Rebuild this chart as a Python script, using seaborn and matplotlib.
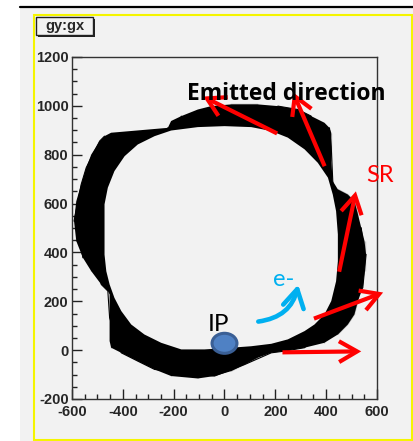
import matplotlib
matplotlib.use("Agg")
import matplotlib.pyplot as plt
import seaborn as sns
from matplotlib.patches import Rectangle, Ellipse
from matplotlib.ticker import MultipleLocator, FixedLocator, FixedFormatter

# ---------------- data ----------------
# outer edge of the gy:gx point cloud (clockwise from the top-left corner)
outer_x = [-446, -223, -210, -170, -105, -52, 26, 131, 210, 289, 341, 393, 413, 420, 420, 426, 446, 485,
           511, 525, 538, 551, 557, 551, 544, 525, 511, 485, 446, 393, 315, 236, 184, 131, 79, 26, -39,
           -105, -210, -275, -341, -406, -446, -452, -452, -459, -485, -524, -557, -583, -592, -583,
           -564, -544, -524, -491, -472]
outer_y = [890, 910, 938, 958, 985, 999, 1006, 1006, 999, 985, 958, 931, 910, 890, 774, 692, 658, 637,
           610, 556, 501, 446, 392, 323, 255, 201, 146, 105, 64, 30, 10, -4, -11, -31, -59, -86, -106,
           -116, -106, -79, -45, -11, 10, 37, 228, 242, 269, 323, 378, 446, 528, 610,
           678, 747, 801, 856, 876]
# inner (empty) region of the cloud
inner_x = [-472, -472, -472, -459, -433, -393, -341, -275, -210, -105, 0, 105, 184, 249, 315, 367, 407,
           426, 439, 446, 446, 439, 420, 393, 354, 315, 249, 184, 105, 26, -79, -170, -249, -315, -367,
           -406, -433, -452, -465]
inner_y = [391, 501, 597, 665, 733, 794, 842, 876, 899, 913, 917, 913, 897, 870, 822, 767, 706,
           637, 569, 474, 364, 282, 201, 146, 105, 78, 44, 26, 16, 10, 3, 3, 30, 64, 105,
           160, 214, 269, 323]

x_ticks = [-600, -400, -200, 0, 200, 400, 600]
x_tick_labels = ["-600", "-400", "-200", "0", "200", "400", "600"]
y_ticks = [-200, 0, 200, 400, 600, 800, 1000, 1200]
y_tick_labels = ["-200", "0", "200", "400", "600", "800", "1000", "1200"]

# red "emitted direction" arrows: tail -> head
arrow_tail_x = [207, 394, 451, 352, 228]
arrow_tail_y = [887, 753, 321, 129, -9]
arrow_head_x = [-84, 270, 517, 624, 538]
arrow_head_y = [1038, 1055, 650, 236, -5]

electron_tail = [133, 117]
electron_head = [290, 268]
ip_pos = [0, 28]
ip_size = [98, 82]

title_text = "gy:gx"
label_emitted = "Emitted direction"
label_sr = "SR"
label_e = "e-"
label_ip = "IP"
label_emitted_pos = [-147, 1026]
label_sr_pos = [557, 687]
label_e_pos = [191, 264]
label_ip_pos = [-64, 77]

# ---------------- style ----------------
sns.set_style("ticks")
plt.rcParams["font.family"] = ["Liberation Sans", "DejaVu Sans"]

BG = "#f2f2f2"
W, H = 414, 441
fig = plt.figure(figsize=(W / 100, H / 100), dpi=100)
fig.patch.set_facecolor("white")

# canvas background, top line and yellow pad border
fig.patches.append(Rectangle((20 / W, 0), 1 - 20 / W, (H - 8) / H, transform=fig.transFigure,
                             facecolor=BG, edgecolor="none", zorder=-2))
fig.lines.append(plt.Line2D([20 / W, 1], [(H - 7) / H, (H - 7) / H], transform=fig.transFigure,
                            color="black", lw=1.6, zorder=-1))
fig.patches.append(Rectangle((34.5 / W, 1 / H), 378 / W, 425.5 / H, transform=fig.transFigure,
                             facecolor="none", edgecolor="#f5f500", lw=1.5, zorder=1))

ax = fig.add_axes([72 / W, (H - 399) / H, 305 / W, 342 / H])
ax.set_facecolor(BG)

# the black band (gy vs gx)
ax.fill(outer_x, outer_y, color="black", lw=0, zorder=2)
sns.lineplot(x=outer_x + outer_x[:1], y=outer_y + outer_y[:1], sort=False, color="black",
             lw=0.8, ax=ax, zorder=2)
ax.fill(inner_x, inner_y, color=BG, lw=0, zorder=3)

ax.set_xlim(-600, 600)
ax.set_ylim(-200, 1200)
ax.xaxis.set_major_locator(FixedLocator(x_ticks))
ax.xaxis.set_major_formatter(FixedFormatter(x_tick_labels))
ax.yaxis.set_major_locator(FixedLocator(y_ticks))
ax.yaxis.set_major_formatter(FixedFormatter(y_tick_labels))
ax.xaxis.set_minor_locator(MultipleLocator(50))
ax.yaxis.set_minor_locator(MultipleLocator(50))
ax.tick_params(which="both", direction="in", color="#222222", width=1.0,
               top=False, right=False)
ax.tick_params(which="major", length=7.2)
ax.tick_params(which="minor", length=3.6)
ax.tick_params(axis="x", which="major", pad=4)
ax.tick_params(axis="y", which="major", pad=2.5)
for lab in ax.get_xticklabels() + ax.get_yticklabels():
    lab.set_fontsize(10.5)
    lab.set_fontweight("bold")
for s in ax.spines.values():
    s.set_visible(True)
    s.set_color("#333333")
    s.set_linewidth(1.0)
ax.set_xlabel("")
ax.set_ylabel("")

# red arrows
for tx, ty, hx, hy in zip(arrow_tail_x, arrow_tail_y, arrow_head_x, arrow_head_y):
    ax.annotate("", xy=(hx, hy), xytext=(tx, ty), annotation_clip=False,
                arrowprops=dict(arrowstyle="->,head_length=1.3,head_width=0.75", color="#ff0000",
                                lw=3, shrinkA=0, shrinkB=0, mutation_scale=10,
                                capstyle="butt", joinstyle="miter"), zorder=5)

# electron curved arrow
ax.annotate("", xy=tuple(electron_head), xytext=tuple(electron_tail), annotation_clip=False,
            arrowprops=dict(arrowstyle="->,head_length=1.3,head_width=0.75", color="#00b0f0",
                            lw=3.3, shrinkA=0, shrinkB=0, mutation_scale=10,
                            connectionstyle="arc3,rad=0.35"), zorder=5)

# IP marker
ax.add_patch(Ellipse(tuple(ip_pos), ip_size[0], ip_size[1], facecolor="#4f81c4",
                     edgecolor="#3a5f95", lw=2.2, zorder=6))

# annotations
ax.text(*label_emitted_pos, label_emitted, fontsize=16.5, fontweight="bold",
        family=["Open Sans", "DejaVu Sans"], color="black", ha="left", va="baseline", zorder=7)
ax.text(*label_sr_pos, label_sr, fontsize=17, family=["Lato", "DejaVu Sans"], color="#ff0000",
        ha="left", va="baseline", zorder=7)
ax.text(*label_e_pos, label_e, fontsize=17, family=["Lato", "DejaVu Sans"], color="#00b0f0",
        ha="left", va="baseline", zorder=7)
ax.text(*label_ip_pos, label_ip, fontsize=17.5, family=["Lato", "DejaVu Sans"], color="black",
        ha="left", va="baseline", zorder=7)

# title box with shadow
fig.patches.append(Rectangle((38 / W, (H - 37) / H), 57 / W, 18 / H, transform=fig.transFigure,
                             facecolor="#222222", edgecolor="none", zorder=3))
fig.patches.append(Rectangle((36 / W, (H - 35) / H), 57 / W, 18 / H, transform=fig.transFigure,
                             facecolor=BG, edgecolor="#222222", lw=1.0, zorder=4))
fig.text(64.5 / W, (H - 26) / H, title_text, fontsize=10.5, fontweight="bold",
         ha="center", va="center", zorder=5)

fig.savefig("out.png", dpi=100, facecolor=fig.get_facecolor())
